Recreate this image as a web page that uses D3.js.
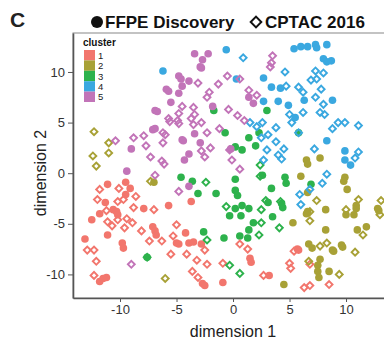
<!DOCTYPE html>
<html lang="en">
<head>
<meta charset="UTF-8">
<title>dimension plot</title>
<style>
  body { margin: 0; padding: 0; background: #fff; }
  svg { font-family: "Liberation Sans", Arial, sans-serif; display: block; }
  .axis path, .axis line { stroke: #555; }
  .axis text { fill: #333; font-size: 13px; }
</style>
</head>
<body>
<div id="chart"></div>
<script src="https://d3js.org/d3.v7.min.js"></script>
<script>
const clusters = ["1", "2", "3", "4", "5"];
const clusterColors = ["#F2766D", "#A8A136", "#2DB24C", "#3AA8E0", "#C274B8"];
const xTicks = [-10, -5, 0, 5, 10];
const yTicks = [-10, -5, 0, 5, 10];

// FFPE Discovery (filled circles): [dim1, dim2] per cluster
const ffpe1 = [[-11.1,-1.1],[-9.5,-0.9],[-9.1,-1.5],[-9.5,-2.1],[-11.3,-2.9],[-11.8,-4.0],[-12.5,-4.6],[-10.6,-3.6],[-10.3,-3.8],[-10.2,-4.1],[-7.9,-3.5],[-5.7,-3.2],[-3.7,-2.8],[-11.1,-6.1],[-13.1,-6.5],[-9.8,-6.9],[-9.7,-7.4],[-7.1,-5.3],[-6.9,-5.7],[-6.8,-6.1],[-5.0,-6.9],[-4.8,-7.0],[-4.2,-5.9],[-11.8,-10.7],[-11.5,-10.4],[-11.2,-10.3],[-3.9,-6.9],[-3.5,-6.8],[-2.8,-7.0],[-2.7,-10.9],[-2.5,-11.1],[-0.9,-10.8],[1.5,-8.4],[1.6,-8.8],[3.2,-10.1],[5.7,-7.5],[5.8,-7.6]];
const ffpe2 = [[6.5,1.3],[6.6,0.9],[7.7,1.5],[-7.0,-0.9],[6.0,-0.3],[9.9,-0.4],[9.8,-0.8],[10.1,-1.6],[6.6,-1.9],[8.2,-3.6],[6.6,-3.8],[6.5,-4.0],[10.9,-3.2],[10.9,-3.5],[10.0,-4.1],[10.7,-4.1],[12.8,-3.5],[12.9,-3.7],[5.3,-4.9],[8.2,-5.6],[11.0,-5.6],[11.8,-5.3],[6.7,-7.0],[7.0,-7.4],[9.6,-7.1],[9.7,-7.3],[8.8,-7.6],[8.9,-7.7],[7.7,-8.5],[7.5,-9.1],[7.5,-9.7],[7.6,-10.3],[8.5,-9.7],[4.5,-11.0]];
const ffpe3 = [[-1.7,6.2],[3.0,6.2],[-0.7,4.0],[1.4,3.5],[2.3,4.0],[5.8,4.0],[0.2,2.6],[0.8,2.3],[2.0,2.7],[-4.6,-0.4],[-3.6,-0.8],[2.6,-0.2],[0.2,-0.6],[-3.1,-2.0],[-1.5,-2.0],[0.2,-1.7],[0.4,-2.2],[3.4,-1.5],[4.6,-0.4],[4.7,-1.0],[6.9,-1.1],[0.8,-3.2],[0.2,-3.5],[1.4,-3.5],[-0.3,-4.2],[0.7,-4.2],[3.1,-2.9],[4.3,-3.0],[4.4,-3.4],[3.5,-4.3],[1.8,-4.9],[1.4,-5.6],[0.6,-6.2],[1.3,-6.4],[-0.8,-6.4],[-2.6,-5.8],[-7.6,-8.3]];
const ffpe4 = [[-6.2,10.1],[-0.6,12.2],[0.3,9.3],[5.4,12.3],[6.0,12.5],[6.6,12.5],[7.3,12.7],[7.4,12.4],[8.3,12.7],[8.0,11.3],[8.3,11.0],[8.7,11.1],[2.7,9.4],[3.4,8.5],[4.2,8.4],[4.0,7.1],[4.9,6.7],[6.3,7.2],[8.8,7.2],[2.7,7.1],[5.5,5.5],[8.3,3.2],[9.9,2.2],[9.9,1.3],[10.4,0.8]];
const ffpe5 = [[-3.4,11.8],[-2.2,11.8],[-2.7,11.2],[-2.9,10.5],[-2.8,10.4],[-4.8,9.6],[-4.6,9.3],[-3.9,9.1],[-4.5,8.6],[-5.9,8.3],[-5.7,8.1],[-4.8,7.9],[-5.5,7.0],[-6.9,6.2],[-6.7,6.1],[-1.8,6.6],[1.4,7.5],[1.8,6.9],[-7.1,4.3],[-6.9,4.4],[-9.0,2.4],[-3.4,3.9],[-4.5,3.3],[-4.4,3.2],[-2.9,3.0],[-3.9,1.9],[-4.3,1.3],[-9.4,0.2],[-0.2,2.4],[-3.9,-1.3]];

// CPTAC 2016 (open diamonds)
const cptac1 = [[-11.8,-1.6],[-10.1,-1.5],[-12.0,-2.6],[-10.2,-2.8],[-9.7,-2.6],[-8.6,-2.3],[-11.2,-3.7],[-8.8,-3.4],[-11.1,-4.8],[-10.7,-5.2],[-10.2,-4.6],[-9.4,-4.5],[-8.9,-4.9],[-9.6,-5.4],[-8.1,-5.7],[-7.0,-3.6],[-7.4,-6.7],[-6.3,-6.7],[-5.3,-6.2],[-5.0,-5.1],[-12.9,-7.6],[-12.3,-7.6],[-12.1,-8.7],[-12.3,-10.1],[-5.5,-8.0],[-4.1,-8.0],[-3.6,-9.7],[-3.2,-8.6],[-2.5,-7.6],[-2.3,-9.0],[-3.1,-10.3],[-0.9,-8.9],[0.6,-7.0],[1.3,-7.5],[2.7,-10.1],[5.0,-8.9],[5.1,-9.4],[5.4,-7.7],[6.3,-11.3],[6.8,-11.1],[8.5,-11.0],[6.8,-9.0]];
const cptac2 = [[-12.3,4.1],[-11.0,3.0],[-12.4,1.7],[-11.0,2.0],[-12.1,0.7],[-7.3,-0.8],[-6.0,-10.4],[7.4,-2.7],[6.8,-3.8],[6.8,-4.7],[11.1,-2.6],[10.0,-3.6],[13.1,-2.7],[13.0,-4.1],[11.5,-6.1],[7.7,-7.2],[8.3,-6.9],[10.8,-7.8],[6.7,-8.7],[9.4,-10.0]];
const cptac3 = [[-2.4,-0.9],[-0.6,-3.3],[2.4,0.8],[2.4,-0.3],[2.9,-2.7],[4.2,-2.8],[2.5,-3.6],[2.5,-4.9],[2.3,-6.1],[4.1,-5.4],[-2.3,-6.6],[-0.3,-9.1],[0.6,-9.9],[-7.6,-8.3]];
const cptac4 = [[0.9,11.4],[4.6,10.0],[7.3,10.1],[8.0,9.9],[6.9,9.2],[7.4,9.3],[4.7,8.6],[5.8,8.5],[6.2,8.0],[7.8,8.3],[7.3,7.5],[8.0,6.8],[6.2,6.0],[7.7,6.0],[8.1,5.8],[5.0,5.8],[5.2,5.0],[1.5,5.0],[2.1,4.6],[2.6,5.0],[2.5,3.5],[3.1,3.8],[3.8,4.5],[3.8,3.1],[5.8,4.0],[4.5,2.4],[7.2,2.4],[11.1,2.1],[10.8,1.5],[4.3,1.4],[4.0,1.8],[2.7,1.3],[3.0,2.3],[9.3,5.0],[9.9,5.0],[11.1,4.7],[8.8,4.4],[8.3,-0.1],[7.9,-1.0],[6.8,-1.6],[5.9,-2.1],[6.0,-3.1]];
const cptac5 = [[3.5,11.6],[3.4,10.9],[3.3,10.5],[-3.1,8.9],[-0.5,9.6],[-1.3,8.8],[-2.1,8.0],[-2.3,7.5],[0.6,9.3],[1.4,8.2],[2.1,7.7],[-4.5,6.6],[-3.5,6.5],[-4.8,5.9],[-3.4,5.8],[-3.7,5.4],[-4.9,5.2],[-2.8,5.0],[-3.5,4.8],[-4.8,4.9],[-0.4,6.3],[0.4,5.7],[1.0,5.2],[-2.3,4.0],[-1.2,4.4],[-2.0,2.5],[-2.8,2.2],[-2.5,1.6],[-0.1,1.3],[-0.3,2.3],[0.6,0.4],[-5.7,5.4],[-5.6,5.1],[-6.2,4.0],[-6.0,3.8],[-10.4,3.2],[-8.8,3.5],[-7.9,3.7],[-7.7,2.7],[-7.3,1.6],[-6.3,1.2],[-6.1,0.9],[-6.2,3.0],[-6.9,-0.2],[-4.8,-1.8],[-9.0,-9.0]];

const ffpeSets = [ffpe1, ffpe2, ffpe3, ffpe4, ffpe5];
const cptacSets = [cptac1, cptac2, cptac3, cptac4, cptac5];
const tag = (sets) => sets.flatMap((pts, i) => pts.map(p => ({ x: p[0], y: p[1], c: i })));
const ffpe = tag(ffpeSets);
const cptac = tag(cptacSets);

const width = 384, height = 343;
const plot = { left: 73, top: 33, right: 384, bottom: 298 };

const svg = d3.select("#chart").append("svg")
    .attr("width", width)
    .attr("height", height);

const x = d3.scaleLinear().domain([-14.16, 13.36]).range([plot.left, plot.right]);
const y = d3.scaleLinear().domain([-12.33, 13.85]).range([plot.bottom, plot.top]);
const color = d3.scaleOrdinal().domain(d3.range(5)).range(clusterColors);

// panel border
svg.append("rect")
    .attr("x", plot.left).attr("y", plot.top)
    .attr("width", plot.right - plot.left + 5)
    .attr("height", plot.bottom - plot.top)
    .attr("fill", "none").attr("stroke", "#888").attr("stroke-width", 1);

// points
svg.append("g").selectAll("circle")
    .data(ffpe).enter().append("circle")
    .attr("cx", d => x(d.x)).attr("cy", d => y(d.y))
    .attr("r", 3.8)
    .attr("fill", d => color(d.c));

const diamond = d3.symbol().type(d3.symbolSquare).size(24);
svg.append("g").selectAll("path")
    .data(cptac).enter().append("path")
    .attr("d", diamond)
    .attr("transform", d => `translate(${x(d.x)},${y(d.y)}) rotate(45)`)
    .attr("fill", "none")
    .attr("stroke", d => color(d.c))
    .attr("stroke-width", 1.9);

// axes
svg.append("g").attr("class", "axis")
    .attr("transform", `translate(0,${plot.bottom})`)
    .call(d3.axisBottom(x).tickValues(xTicks).tickSize(4).tickPadding(3).tickSizeOuter(0))
    .call(g => g.select(".domain").attr("stroke-width", 1.6));

svg.append("g").attr("class", "axis")
    .attr("transform", `translate(${plot.left},0)`)
    .call(d3.axisLeft(y).tickValues(yTicks).tickSize(5).tickPadding(3).tickSizeOuter(0))
    .call(g => g.select(".domain").attr("stroke-width", 1.6));

svg.selectAll(".axis text").text(function() { return this.textContent.replace("−", "-"); });

// axis titles
svg.append("text")
    .attr("x", 233).attr("y", 337)
    .attr("text-anchor", "middle")
    .attr("font-size", 16).attr("fill", "#222")
    .text("dimension 1");

svg.append("text")
    .attr("transform", "translate(46,173) rotate(-90)")
    .attr("text-anchor", "middle")
    .attr("font-size", 16).attr("fill", "#222")
    .text("dimension 2");

// panel letter
svg.append("text")
    .attr("x", 10).attr("y", 27)
    .attr("font-size", 21).attr("font-weight", "bold").attr("fill", "#222")
    .text("C");

// title with shape keys
svg.append("circle").attr("cx", 97).attr("cy", 22).attr("r", 6).attr("fill", "#111");
svg.append("text")
    .attr("x", 105).attr("y", 28)
    .attr("font-size", 17).attr("font-weight", "bold").attr("fill", "#111")
    .text("FFPE Discovery");
svg.append("path")
    .attr("d", d3.symbol().type(d3.symbolSquare).size(56))
    .attr("transform", "translate(256,22) rotate(45)")
    .attr("fill", "none").attr("stroke", "#111").attr("stroke-width", 2);
svg.append("text")
    .attr("x", 265).attr("y", 28)
    .attr("font-size", 17).attr("font-weight", "bold").attr("fill", "#111")
    .text("CPTAC 2016");

// cluster legend
const legend = svg.append("g").attr("transform", "translate(83,46)");
legend.append("text")
    .attr("x", 0).attr("y", 0)
    .attr("font-size", 10).attr("font-weight", "bold").attr("fill", "#111")
    .text("cluster");
const items = legend.selectAll("g.item")
    .data(clusters).enter().append("g")
    .attr("class", "item")
    .attr("transform", (d, i) => `translate(1,${4 + i * 10.4})`);
items.append("rect")
    .attr("width", 11).attr("height", 10.4)
    .attr("fill", (d, i) => clusterColors[i]);
items.append("text")
    .attr("x", 14).attr("y", 8.8)
    .attr("font-size", 9.5).attr("fill", "#222")
    .text(d => d);
</script>
</body>
</html>
